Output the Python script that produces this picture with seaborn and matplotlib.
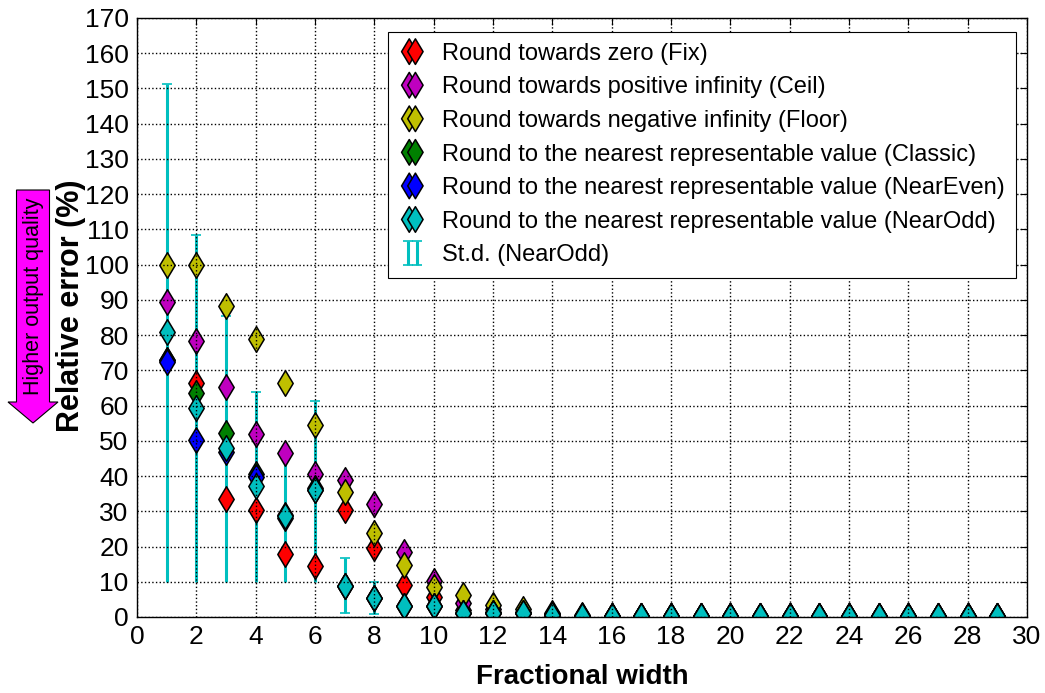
import numpy as np
import matplotlib
matplotlib.use("Agg")
import matplotlib.pyplot as plt
from matplotlib.collections import PathCollection
from matplotlib.container import ErrorbarContainer
from matplotlib.legend_handler import HandlerErrorbar, HandlerPathCollection
from matplotlib.patches import FancyArrow
import seaborn as sns

# fractional widths (x axis)
widths = [1, 2, 3, 4, 5, 6, 7, 8, 9, 10, 11, 12, 13, 14, 15,
          16, 17, 18, 19, 20, 21, 22, 23, 24, 25, 26, 27, 28, 29]

# relative error (%) per rounding mode
fix = [73.0, 66.4, 33.5, 30.5, 17.9, 14.5, 30.4, 19.5, 9.0, 5.8, 2.0, 1.5, 1.0, 0.6, 0.4,
       0.4, 0.4, 0.4, 0.4, 0.4, 0.4, 0.4, 0.4, 0.4, 0.4, 0.4, 0.4, 0.4, 0.4]
ceil = [89.4, 78.4, 65.3, 51.9, 46.4, 40.6, 38.9, 32.1, 18.4, 10.3, 4.1, 2.2, 1.5, 0.8, 0.4,
        0.4, 0.4, 0.4, 0.4, 0.4, 0.4, 0.4, 0.4, 0.4, 0.4, 0.4, 0.4, 0.4, 0.4]
floor = [100.0, 100.0, 88.3, 78.9, 66.5, 54.5, 35.6, 23.7, 14.8, 8.6, 6.2, 3.4, 2.2, 1.1, 0.5,
         0.4, 0.4, 0.4, 0.4, 0.4, 0.4, 0.4, 0.4, 0.4, 0.4, 0.4, 0.4, 0.4, 0.4]
classic = [73.0, 63.5, 52.3, 40.6, 29.0, 36.5, 8.8, 5.3, 3.0, 3.0, 1.2, 1.0, 1.2, 0.6, 0.4,
           0.4, 0.4, 0.4, 0.4, 0.4, 0.4, 0.4, 0.4, 0.4, 0.4, 0.4, 0.4, 0.4, 0.4]
near_even = [72.4, 50.2, 46.9, 39.8, 28.2, 36.0, 8.8, 5.3, 3.0, 3.0, 1.2, 1.0, 1.2, 0.6, 0.4,
             0.4, 0.4, 0.4, 0.4, 0.4, 0.4, 0.4, 0.4, 0.4, 0.4, 0.4, 0.4, 0.4, 0.4]
near_odd = [80.9, 59.3, 48.0, 37.2, 28.7, 36.0, 8.8, 5.3, 3.0, 3.0, 1.2, 1.0, 1.2, 0.6, 0.4,
            0.4, 0.4, 0.4, 0.4, 0.4, 0.4, 0.4, 0.4, 0.4, 0.4, 0.4, 0.4, 0.4, 0.4]

# st.d. band of NearOdd (lower / upper ends of the bars)
std_x = [1, 2, 3, 4, 5, 6, 7, 8]
std_low = [10.0, 10.0, 10.0, 10.0, 10.0, 10.0, 1.0, 0.8]
std_high = [151.2, 108.4, 85.5, 63.9, 47.2, 61.4, 16.6, 9.8]

labels = ["Round towards zero (Fix)",
          "Round towards positive infinity (Ceil)",
          "Round towards negative infinity (Floor)",
          "Round to the nearest representable value (Classic)",
          "Round to the nearest representable value (NearEven)",
          "Round to the nearest representable value (NearOdd)"]
colors = ["#ff0000", "#bf00bf", "#bfbf00", "#008000", "#0000ff", "#00bfbf"]

sns.set_style("white")
plt.rcParams['font.family'] = ['Liberation Sans', 'DejaVu Sans']
plt.rcParams.update({'text.color': 'k', 'axes.labelcolor': 'k',
                     'xtick.color': 'k', 'ytick.color': 'k'})

fig = plt.figure(figsize=(10.45, 6.93), dpi=100)
ax = fig.add_axes([0.1311, 0.1097, 0.8517, 0.8644])

# error bars of NearOdd, under the markers
odd_part = near_odd[:len(std_x)]
yerr = [np.subtract(odd_part, std_low), np.subtract(std_high, odd_part)]
eb = ax.errorbar(std_x, odd_part, yerr=yerr, fmt='none', ecolor='#00bfbf',
                 elinewidth=2.2, capsize=3.5, capthick=1.2, zorder=0.5,
                 label='St.d. (NearOdd)')
# the bars cut at 10 % have no lower cap
eb[1][0].set_ydata(np.where(np.array(std_low) >= 10, np.nan, std_low))

for lab, vals, col in zip(labels, [fix, ceil, floor, classic, near_even, near_odd], colors):
    sns.scatterplot(x=widths, y=vals, ax=ax, marker='d', s=170, color=col,
                    edgecolor='k', linewidth=1.1, label=lab, zorder=1)

# markers sitting on zero are cut by the frame
for coll in ax.collections:
    coll.set_clip_on(True)
    coll.set_clip_path(ax.patch)

ax.set_xlim(0, 30)
ax.set_ylim(0, 170)
ax.set_xticks(np.arange(0, 31, 2))
ax.set_yticks(np.arange(0, 171, 10))
ax.tick_params(direction='in', top=True, right=True, length=5, width=0.8,
               labelsize=19, pad=6, colors='k')
ax.set_axisbelow(False)
ax.grid(True, color='k', linestyle=':', linewidth=1.0)
for sp in ax.spines.values():
    sp.set_color('k')
    sp.set_linewidth(1.0)

ax.set_xlabel('Fractional width', fontsize=20, fontweight='bold')
ax.set_ylabel('Relative error (%)', fontsize=22, fontweight='bold')
ax.xaxis.set_label_coords(0.5, -0.078)
ax.yaxis.set_label_coords(-0.057, 0.52)

handles, labs = ax.get_legend_handles_labels()
leg = ax.legend(handles, labs, loc='upper right', bbox_to_anchor=(1.0, 0.995),
                fontsize=17, scatterpoints=2, scatteryoffsets=[0.5], numpoints=2,
                handlelength=1.1, handletextpad=0.72, borderaxespad=0.45,
                fancybox=False, framealpha=1, edgecolor='k', borderpad=0.48,
                labelspacing=0.49,
                handler_map={ErrorbarContainer: HandlerErrorbar(marker_pad=0.354),
                             PathCollection: HandlerPathCollection(marker_pad=0.42)})
leg.get_frame().set_linewidth(0.8)

# arrow on the left (inch coordinates from the bottom left corner)
arrow = FancyArrow(0.33, 5.03, 0.0, -2.33, width=0.33, head_width=0.50,
                   head_length=0.21, length_includes_head=True,
                   transform=fig.dpi_scale_trans, fc='#ff00ff', ec='k', lw=0.8)
fig.patches.append(arrow)
fig.text(0.0316, 0.572, 'Higher output quality', rotation=90, fontsize=15.5,
         ha='center', va='center')

fig.savefig('out.png', dpi=100)
